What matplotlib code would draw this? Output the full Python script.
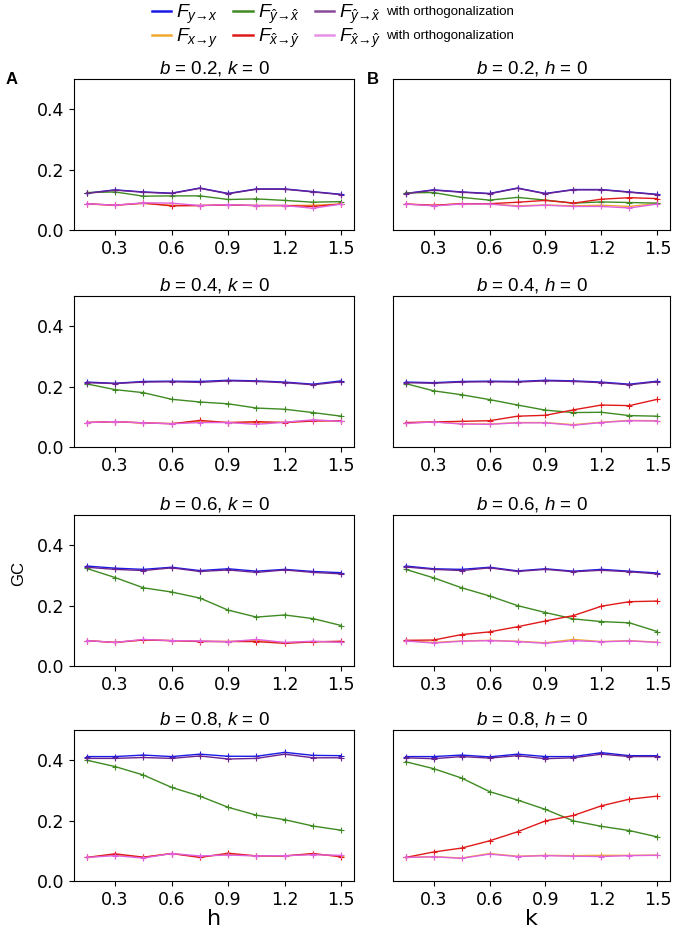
import matplotlib
matplotlib.use("Agg")
import matplotlib.pyplot as plt
from matplotlib.lines import Line2D

plt.rcParams['mathtext.fontset'] = 'custom'
plt.rcParams['mathtext.rm'] = 'Liberation Sans'
plt.rcParams['mathtext.it'] = 'Liberation Sans:italic'

# x values (h for column A, k for column B)
x = [0.15, 0.3, 0.45, 0.6, 0.75, 0.9, 1.05, 1.2, 1.35, 1.5]
b_values = [0.2, 0.4, 0.6, 0.8]

# column A: k = 0, vary h
A_yx = [
    [0.122, 0.133, 0.126, 0.122, 0.139, 0.121, 0.136, 0.136, 0.127, 0.118],
    [0.215, 0.211, 0.217, 0.218, 0.217, 0.221, 0.219, 0.215, 0.208, 0.219],
    [0.331, 0.324, 0.320, 0.327, 0.316, 0.322, 0.314, 0.320, 0.313, 0.309],
    [0.412, 0.412, 0.417, 0.412, 0.420, 0.413, 0.413, 0.426, 0.416, 0.415],
]
A_xy = [
    [0.086, 0.082, 0.088, 0.082, 0.081, 0.083, 0.081, 0.081, 0.082, 0.086],
    [0.081, 0.084, 0.079, 0.078, 0.084, 0.081, 0.080, 0.082, 0.088, 0.086],
    [0.084, 0.078, 0.087, 0.084, 0.082, 0.081, 0.085, 0.077, 0.081, 0.080],
    [0.078, 0.087, 0.078, 0.091, 0.080, 0.089, 0.083, 0.083, 0.089, 0.082],
]
A_hat_yx = [
    [0.124, 0.126, 0.112, 0.113, 0.113, 0.101, 0.103, 0.098, 0.092, 0.094],
    [0.209, 0.190, 0.180, 0.158, 0.149, 0.143, 0.129, 0.125, 0.114, 0.102],
    [0.323, 0.293, 0.259, 0.245, 0.225, 0.185, 0.162, 0.169, 0.157, 0.134],
    [0.400, 0.379, 0.351, 0.310, 0.281, 0.244, 0.218, 0.203, 0.182, 0.168],
]
A_hat_xy = [
    [0.087, 0.082, 0.089, 0.080, 0.081, 0.083, 0.081, 0.081, 0.078, 0.086],
    [0.081, 0.084, 0.080, 0.077, 0.088, 0.081, 0.084, 0.081, 0.086, 0.087],
    [0.084, 0.078, 0.086, 0.084, 0.081, 0.081, 0.081, 0.075, 0.080, 0.082],
    [0.078, 0.090, 0.079, 0.091, 0.078, 0.092, 0.083, 0.083, 0.091, 0.080],
]
A_orth_yx = [
    [0.121, 0.132, 0.125, 0.121, 0.138, 0.120, 0.135, 0.135, 0.126, 0.117],
    [0.213, 0.210, 0.215, 0.216, 0.214, 0.219, 0.217, 0.213, 0.206, 0.216],
    [0.327, 0.320, 0.316, 0.325, 0.313, 0.318, 0.310, 0.318, 0.310, 0.305],
    [0.406, 0.406, 0.409, 0.406, 0.414, 0.404, 0.406, 0.420, 0.408, 0.408],
]
A_orth_xy = [
    [0.087, 0.082, 0.090, 0.089, 0.081, 0.084, 0.081, 0.081, 0.072, 0.086],
    [0.081, 0.084, 0.080, 0.077, 0.081, 0.081, 0.075, 0.082, 0.090, 0.085],
    [0.084, 0.078, 0.088, 0.084, 0.083, 0.080, 0.088, 0.078, 0.082, 0.078],
    [0.078, 0.084, 0.076, 0.091, 0.083, 0.086, 0.083, 0.084, 0.087, 0.085],
]

# column B: h = 0, vary k
B_yx = [
    [0.121, 0.133, 0.126, 0.121, 0.139, 0.121, 0.134, 0.134, 0.126, 0.118],
    [0.215, 0.213, 0.217, 0.218, 0.217, 0.221, 0.219, 0.215, 0.208, 0.218],
    [0.331, 0.322, 0.320, 0.327, 0.315, 0.322, 0.314, 0.320, 0.314, 0.308],
    [0.412, 0.412, 0.417, 0.411, 0.420, 0.412, 0.412, 0.425, 0.415, 0.415],
]
B_xy = [
    [0.086, 0.081, 0.087, 0.087, 0.080, 0.083, 0.080, 0.082, 0.078, 0.088],
    [0.079, 0.083, 0.077, 0.076, 0.081, 0.081, 0.074, 0.082, 0.088, 0.087],
    [0.084, 0.078, 0.083, 0.085, 0.082, 0.077, 0.088, 0.081, 0.084, 0.079],
    [0.078, 0.081, 0.076, 0.091, 0.082, 0.085, 0.084, 0.085, 0.085, 0.086],
]
B_hat_yx = [
    [0.123, 0.124, 0.108, 0.099, 0.108, 0.099, 0.089, 0.093, 0.091, 0.089],
    [0.210, 0.186, 0.173, 0.157, 0.139, 0.122, 0.114, 0.115, 0.104, 0.102],
    [0.320, 0.292, 0.259, 0.232, 0.200, 0.177, 0.156, 0.147, 0.143, 0.114],
    [0.395, 0.372, 0.341, 0.296, 0.268, 0.237, 0.199, 0.181, 0.167, 0.146],
]
B_hat_xy = [
    [0.086, 0.082, 0.087, 0.087, 0.092, 0.098, 0.089, 0.102, 0.107, 0.104],
    [0.081, 0.083, 0.085, 0.087, 0.102, 0.105, 0.123, 0.139, 0.137, 0.158],
    [0.085, 0.086, 0.104, 0.113, 0.130, 0.149, 0.167, 0.198, 0.213, 0.215],
    [0.078, 0.096, 0.109, 0.133, 0.163, 0.199, 0.217, 0.249, 0.271, 0.281],
]
B_orth_yx = [
    [0.120, 0.132, 0.125, 0.120, 0.138, 0.120, 0.133, 0.133, 0.125, 0.117],
    [0.213, 0.211, 0.215, 0.216, 0.215, 0.219, 0.217, 0.213, 0.206, 0.216],
    [0.328, 0.320, 0.316, 0.325, 0.313, 0.320, 0.312, 0.317, 0.312, 0.305],
    [0.408, 0.405, 0.412, 0.407, 0.415, 0.405, 0.408, 0.420, 0.412, 0.412],
]
B_orth_xy = [
    [0.086, 0.080, 0.086, 0.086, 0.078, 0.082, 0.078, 0.078, 0.073, 0.086],
    [0.078, 0.083, 0.076, 0.075, 0.080, 0.080, 0.072, 0.081, 0.087, 0.086],
    [0.083, 0.076, 0.082, 0.084, 0.081, 0.075, 0.084, 0.080, 0.083, 0.078],
    [0.078, 0.080, 0.075, 0.089, 0.081, 0.084, 0.082, 0.081, 0.084, 0.085],
]

labels = ['$F_{y→x}$', '$F_{x→y}$',
          r'$F_{\hat{y}→\hat{x}}$', r'$F_{\hat{x}→\hat{y}}$',
          r'$F_{\hat{y}→\hat{x}}$', r'$F_{\hat{x}→\hat{y}}$']
suffix = 'with orthogonalization'
colors = ['#1a1ae6', '#f0a830', '#3f8a22', '#e01a1a', '#6a2390', '#e060e0']
legend_colors = ['#1a1ae6', '#f0a830', '#3f8a22', '#e01a1a', '#8a4a9a', '#e690e6']

fig = plt.figure(figsize=(6.77, 9.38), dpi=100)

lefts = [74 / 677, 393 / 677]
widths = [280 / 677, 277 / 677]
bottoms_px = [230, 447, 666, 881]
h = 151 / 938

cols = [
    (A_yx, A_xy, A_hat_yx, A_hat_xy, A_orth_yx, A_orth_xy),
    (B_yx, B_xy, B_hat_yx, B_hat_xy, B_orth_yx, B_orth_xy),
]
for c in range(2):
    for r in range(4):
        ax = fig.add_axes([lefts[c], 1 - bottoms_px[r] / 938, widths[c], h])
        for s, series in enumerate(cols[c]):
            ax.plot(x, series[r], color=colors[s], lw=1.0, marker='+',
                    ms=4, mew=0.8)
        ax.set_ylim(0, 0.5)
        ax.set_yticks([0.0, 0.2, 0.4])
        ax.set_xticks([0.3, 0.6, 0.9, 1.2, 1.5])
        ax.tick_params(labelsize=12.5)
        if c == 1:
            ax.tick_params(left=False, labelleft=False)
        other = 'k' if c == 0 else 'h'
        ax.set_title(r'$b$ = %.1f, $%s$ = 0' % (b_values[r], other),
                     fontsize=13.5, family='Liberation Sans', pad=4)
        if r == 3:
            ax.set_xlabel('h' if c == 0 else 'k', fontsize=16, labelpad=0)

fig.text(0.008, 1 - 80 / 938, 'A', fontsize=12, fontweight='bold',
         family='Liberation Sans', va='center')
fig.text(367 / 677, 1 - 80 / 938, 'B', fontsize=12, fontweight='bold',
         family='Liberation Sans', va='center')
fig.text(0.027, 1 - 573 / 938, 'GC', rotation=90, fontsize=12,
         family='Liberation Sans', va='center', ha='center')

handles = [Line2D([], [], color=col, lw=1.8) for col in legend_colors]
leg = fig.legend(handles, labels, loc='upper left',
                 bbox_to_anchor=(134 / 677, 1.016),
                 ncol=3, frameon=False, handlelength=1.0, columnspacing=0.8,
                 handletextpad=0.25, labelspacing=0.05,
                 prop={'family': 'Liberation Sans', 'size': 14})

# put the plain-text suffix after the last legend column
fig.canvas.draw()
renderer = fig.canvas.get_renderer()
inv = fig.transFigure.inverted()
for t in leg.get_texts()[4:]:
    bb = t.get_window_extent(renderer)
    x0, y0 = inv.transform((bb.x1 + 5, (bb.y0 + bb.y1) / 2 + 2))
    fig.text(x0, y0, suffix, fontsize=9.5, va='center',
             family='Liberation Sans')

fig.savefig('out.png', dpi=100)
